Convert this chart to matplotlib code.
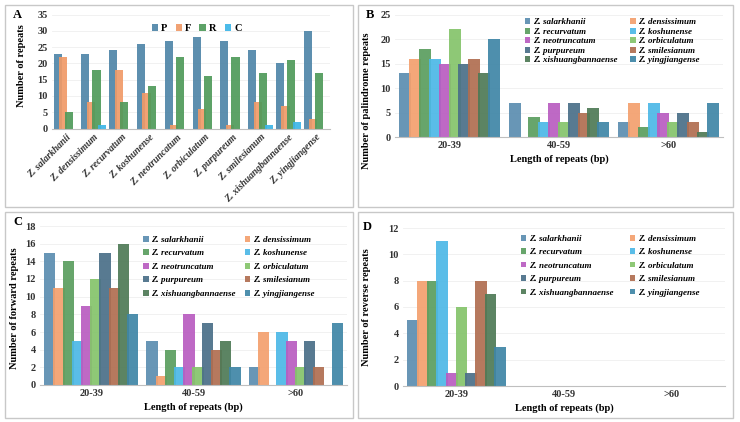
import matplotlib
matplotlib.use('Agg')
import matplotlib.pyplot as plt
import numpy as np
from matplotlib.patches import Rectangle

plt.rcParams['font.family'] = ['Liberation Serif', 'DejaVu Serif']
plt.rcParams['font.weight'] = 'bold'

species = ['Z. salarkhanii', 'Z. densissimum', 'Z. recurvatum', 'Z. koshunense',
           'Z. neotruncatum', 'Z. orbiculatum', 'Z. purpureum', 'Z. smilesianum',
           'Z. xishuangbannaense', 'Z. yingjiangense']
length_bins = ['20-39', '40-59', '>60']

# Panel A: repeat types per species
repeat_types = ['P', 'F', 'R', 'C']
a_P = [23, 23, 24, 26, 27, 28, 27, 24, 20, 30]
a_F = [22, 8, 18, 11, 1, 6, 1, 8, 7, 3]
a_R = [5, 18, 8, 13, 22, 16, 22, 17, 21, 17]
a_C = [0, 1, 0, 0, 0, 0, 0, 1, 2, 0]

# Panel B: palindrome repeats (rows = species, cols = length bins)
palindrome = [[13, 7, 3], [16, 0, 7], [18, 4, 2], [16, 3, 7], [15, 7, 5],
              [22, 3, 3], [15, 7, 5], [16, 5, 3], [13, 6, 1], [20, 3, 7]]
# Panel C: forward repeats
forward = [[15, 5, 2], [11, 1, 6], [14, 4, 0], [5, 2, 6], [9, 8, 5],
           [12, 2, 2], [15, 7, 5], [11, 4, 2], [16, 5, 0], [8, 2, 7]]
# Panel D: reverse repeats
reverse = [[5, 0, 0], [8, 0, 0], [8, 0, 0], [11, 0, 0], [1, 0, 0],
           [6, 0, 0], [1, 0, 0], [8, 0, 0], [7, 0, 0], [3, 0, 0]]

type_colors = ['#4F86A8', '#F09A68', '#4F9A5A', '#3DB5E8']
sp_colors = ['#5B8DB0', '#F4A06E', '#5A9E5E', '#4CB8E6', '#B95CC0',
             '#84C46A', '#4A6F88', '#B06E50', '#4E7A56', '#3F86A6']

W, H = 740, 422
fig = plt.figure(figsize=(W / 100, H / 100), dpi=100)


def px_axes(x0, y0, x1, y1):
    return fig.add_axes([x0 / W, 1 - y1 / H, (x1 - x0) / W, (y1 - y0) / H])


def style(ax, ymax, ystep):
    ax.set_ylim(0, ymax)
    ax.set_yticks(np.arange(0, ymax + 0.1, ystep))
    for s in ['top', 'right', 'left']:
        ax.spines[s].set_visible(False)
    ax.spines['bottom'].set_color('#BFBFBF')
    ax.tick_params(length=0, labelsize=7.5, colors='#333333', pad=3)
    ax.grid(axis='y', color='#EFEFEF', linewidth=0.6)
    ax.set_axisbelow(True)


# panel borders
for (x0, y0, x1, y1) in [(5, 5, 353, 207), (358, 5, 733, 207),
                         (5, 212, 353, 418), (358, 212, 733, 418)]:
    fig.patches.append(Rectangle((x0 / W, 1 - y1 / H), (x1 - x0) / W, (y1 - y0) / H,
                                 transform=fig.transFigure, fill=False,
                                 edgecolor='#C8C8C8', linewidth=1))

# ---- Panel A
axA = px_axes(52, 14.5, 330, 128.5)
x = np.arange(len(species))
step, width = 0.2, 0.29
for i, (vals, c, lab) in enumerate(zip([a_P, a_F, a_R, a_C], type_colors, repeat_types)):
    axA.bar(x + (i - 1.5) * step, vals, width, color=c, alpha=0.92, label=lab)
style(axA, 35, 5)
axA.set_xlim(-0.5, len(species) - 0.5)
axA.set_xticks(x)
axA.set_xticklabels(species, rotation=45, ha='right', rotation_mode='anchor',
                    style='italic', fontsize=7)
axA.set_ylabel('Number of repeats', fontsize=7.5, fontweight='bold')
axA.yaxis.set_label_coords(-0.094, 0.55)
axA.legend(loc='upper center', bbox_to_anchor=(0.52, 0.95), ncol=4, frameon=False,
           fontsize=7.5, handlelength=0.6, handleheight=0.6, handletextpad=0.3,
           columnspacing=0.8, borderaxespad=0)

# row-wise legend order for two columns
order = [0, 2, 4, 6, 8, 1, 3, 5, 7, 9]


def grouped(ax, data, ymax, ystep, ylabel, label_xy, legend_box, lspace, cspace):
    data = np.array(data)
    xc = np.arange(len(length_bins))
    step, width = 0.09, 0.11
    for i in range(len(species)):
        ax.bar(xc + (i - 4.5) * step, data[i], width, color=sp_colors[i],
               alpha=0.92, label=species[i])
    style(ax, ymax, ystep)
    ax.set_xlim(-0.5, 2.5)
    ax.set_xticks(xc)
    ax.set_xticklabels(length_bins, fontsize=7.5)
    ax.set_xlabel('Length of repeats (bp)', fontsize=7.5, fontweight='bold', labelpad=3)
    ax.set_ylabel(ylabel, fontsize=7.5, fontweight='bold')
    ax.yaxis.set_label_coords(*label_xy)
    h, l = ax.get_legend_handles_labels()
    ax.legend([h[k] for k in order], [l[k] for k in order],
              loc='upper left', bbox_to_anchor=legend_box, ncol=2, frameon=False,
              prop={'style': 'italic', 'weight': 'bold', 'size': 6.5},
              handlelength=0.6, handleheight=0.6, handletextpad=0.3,
              labelspacing=lspace, columnspacing=cspace, borderaxespad=0)


axB = px_axes(395, 14.7, 723, 137)
grouped(axB, palindrome, 25, 5, 'Number of palindrome repeats', (-0.073, 0.3),
        (0.385, 1.0), 0.16, 1.4)

axC = px_axes(40, 226, 347, 385)
grouped(axC, forward, 18, 2, 'Number of forward repeats', (-0.068, 0.48),
        (0.325, 0.96), 0.6, 1.0)

axD = px_axes(403, 228, 725, 386)
grouped(axD, reverse, 12, 2, 'Number of reverse repeats', (-0.1, 0.5),
        (0.355, 0.98), 0.6, 1.8)

for lab, (px, py) in zip('ABCD', [(13, 15), (366, 15), (13, 222), (363, 227)]):
    fig.text(px / W, 1 - py / H, lab, fontsize=9, fontweight='bold', va='center')

fig.savefig('out.png', dpi=100)
